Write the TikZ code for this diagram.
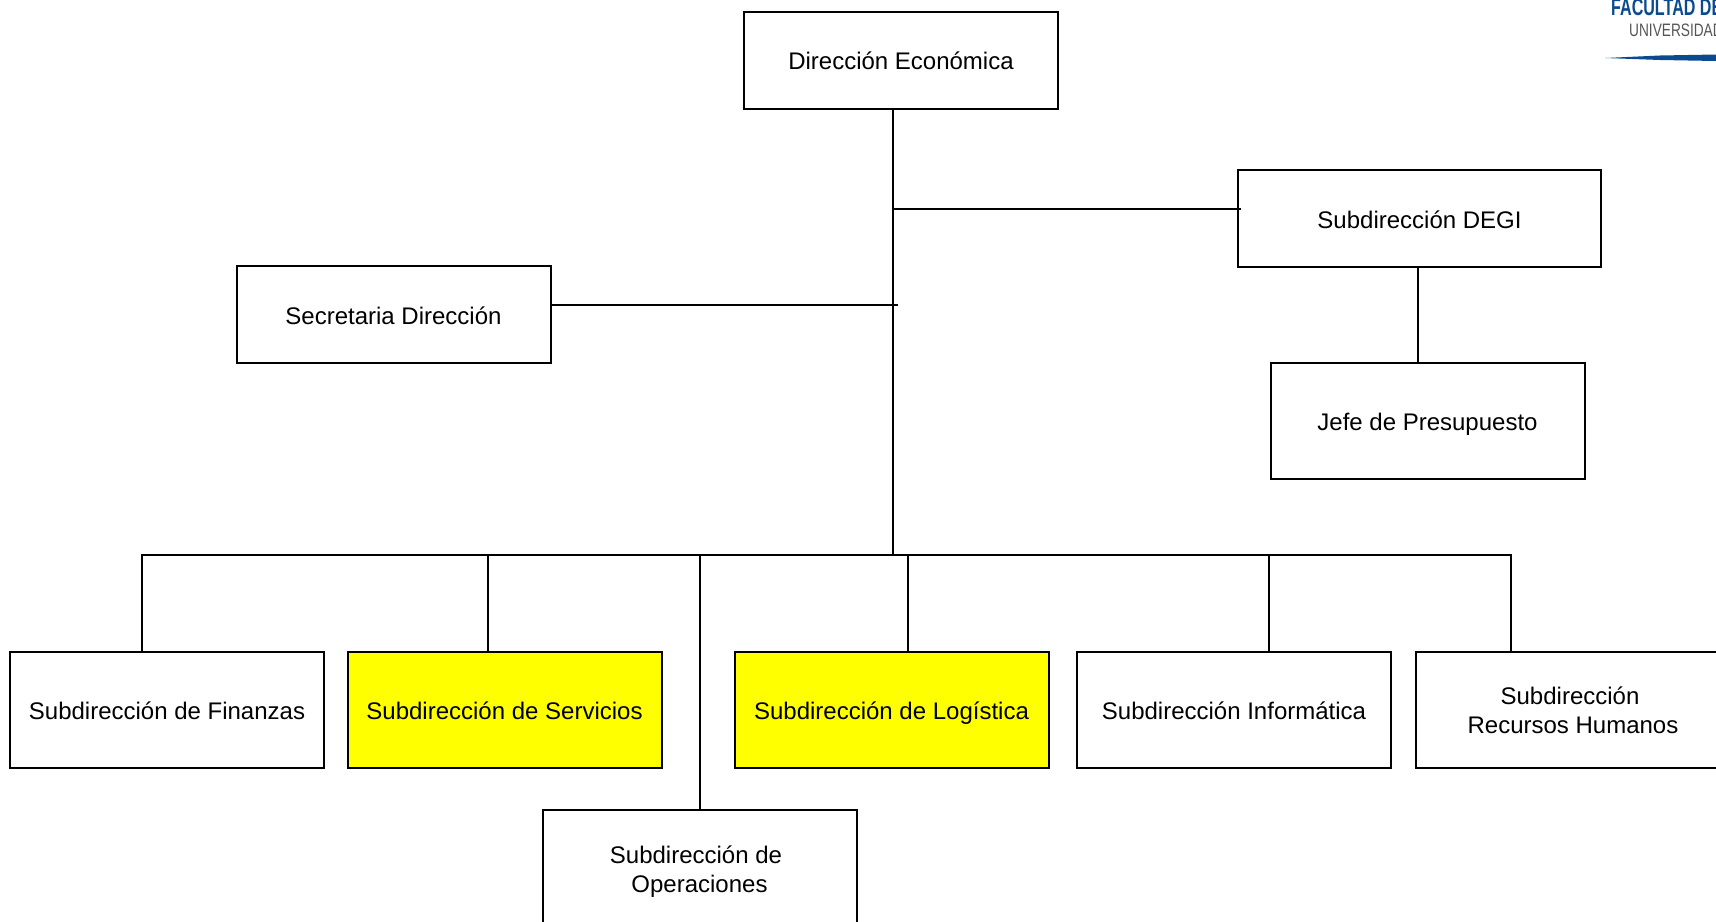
\documentclass[tikz,border=0pt]{standalone}
\usepackage{fontspec}
\setmainfont{Liberation Sans}
\newfontfamily\logohead[FakeStretch=0.67]{Liberation Sans}
\newfontfamily\logosub[FakeStretch=0.76]{Liberation Sans}
\definecolor{logoblue}{HTML}{0B4A8F}
\definecolor{logogray}{HTML}{555555}
\definecolor{markyellow}{HTML}{FFFF00}
\usetikzlibrary{positioning}

\begin{document}
\begin{tikzpicture}[x=1pt,y=-1pt]
    \useasboundingbox (0,0) rectangle (1716,921);
    \clip (0,0) rectangle (1716,921);
    \tikzstyle{BoxStyle}=[shape        = rectangle,
                          draw,
                          line width   = 2pt,
                          align        = center,
                          minimum width  = 314pt,
                          minimum height = 116pt,
                          inner sep    = 0pt,
                          font         = \fontsize{24}{29}\selectfont]
    \tikzstyle{OneLineStyle}=[BoxStyle,
                              text height = 19pt,
                              text depth  = 0pt]
    \tikzstyle{TopStyle}=[OneLineStyle,
                          minimum height = 97pt]
    \tikzstyle{MarkStyle}=[fill = markyellow]
    \tikzstyle{LineStyle}=[line width = 2pt,
                           line cap   = rect]
    % upper part
    \node[TopStyle] (direccion)  at (901,60)    {Dirección Económica};
    \node[TopStyle] (secretaria) at (393.5,314.5) {Secretaria Dirección};
    \node[TopStyle, minimum width = 363pt] (degi) at (1419.5,218.5) {Subdirección DEGI};
    \node[OneLineStyle] (jefe)   at (1427.5,421)  {Jefe de Presupuesto};
    % lower row
    \node[OneLineStyle] (finanzas) at (167,710) {Subdirección de Finanzas};
    \node[OneLineStyle, MarkStyle, right=21.5pt of finanzas]  (servicios)   {Subdirección de Servicios};
    \node[OneLineStyle, MarkStyle, right=71pt of servicios]   (logistica)   {Subdirección de Logística};
    \node[OneLineStyle, right=26.5pt of logistica]            (informatica) {Subdirección Informática};
    \node[BoxStyle, right=23pt of informatica] (humanos) {Subdirección\hspace*{6pt}\\ Recursos Humanos};
    \node[BoxStyle, minimum height = 124pt] (operaciones) at (699.5,872) {Subdirección de\hspace*{7pt}\\ Operaciones};
    % trunk and bus
    \coordinate (trunk)    at (893,555);
    \coordinate (degiend)  at (1240,209);
    \coordinate (secreend) at (897,305);
    \coordinate (jefedrop) at (1418,421);
    \coordinate (busleft)  at (142,555);
    \coordinate (busright) at (1511,555);
    \coordinate (servdrop) at (488,555);
    \coordinate (opedrop)  at (700,555);
    \coordinate (logidrop) at (908,555);
    \coordinate (infodrop) at (1269,555);
    \draw[LineStyle] (direccion.south -| trunk) -- (trunk);
    \draw[LineStyle] (trunk |- degiend) -- (degiend);
    \draw[LineStyle] (secretaria.east |- secreend) -- (secreend);
    \draw[LineStyle] (degi.south -| jefedrop) -- (jefe.north -| jefedrop);
    \draw[LineStyle] (busleft) -- (busright);
    \draw[LineStyle] (busleft)  -- (busleft  |- finanzas.north);
    \draw[LineStyle] (servdrop) -- (servdrop |- servicios.north);
    \draw[LineStyle] (opedrop)  -- (opedrop  |- operaciones.north);
    \draw[LineStyle] (logidrop) -- (logidrop |- logistica.north);
    \draw[LineStyle] (infodrop) -- (infodrop |- informatica.north);
    \draw[LineStyle] (busright) -- (busright |- humanos.north);
    % logo, cut off by the page
    \node[anchor=base west, inner sep=0pt, text=logoblue, font=\logohead\bfseries\fontsize{24}{24}\selectfont] (facultad) at (1611,15) {FACULTAD DE};
    \node[anchor=base west, inner sep=0pt, text=logogray, font=\logosub\fontsize{18}{18}\selectfont] (universidad) at (1629,36) {UNIVERSIDAD};
    \fill[logoblue] (1605,58) -- (1660,55.5) -- (1716,54.5) -- (1716,61) -- (1660,60) -- cycle;
\end{tikzpicture}
\end{document}
